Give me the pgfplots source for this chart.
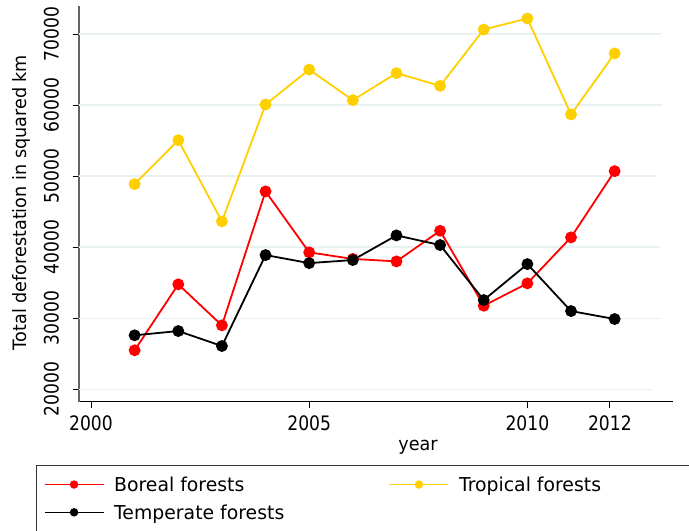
\documentclass[border=0pt]{standalone}
\usepackage{fontspec}
\setmainfont{DejaVu Sans}
\newfontfamily\tickf{DejaVu Sans}[FakeStretch=0.86]
\newfontfamily\labf{DejaVu Sans}[FakeStretch=0.955]
\newfontfamily\legf{DejaVu Sans}[FakeStretch=0.985]
\usepackage{pgfplots}
\pgfplotsset{compat=1.18}
\definecolor{boreal}{RGB}{255,0,0}
\definecolor{tropical}{RGB}{255,208,0}
\definecolor{gridc}{RGB}{234,241,243}
\definecolor{yaxc}{RGB}{100,100,100}
\begin{document}
\begin{tikzpicture}
\path[use as bounding box] (0,0) rectangle (689bp,-531bp);
\begin{axis}[
  at={(79bp,-401.7bp)}, anchor=south west,
  scale only axis, width=593.7bp, height=395.7bp,
  xmin=1999.725, xmax=2013.33,
  ymin=18255, ymax=73940,
  scaled y ticks=false, scaled x ticks=false,
  axis x line*=bottom, axis y line*=left,
  x axis line style={black, line width=1.1bp, -},
  y axis line style={yaxc, line width=1.6bp, -},
  tick align=outside,
  major tick length=6.5bp,
  tick style={black, line width=0.9bp},
  xtick={2000,2005,2010,2011.89},
  xticklabels={2000,2005,2010,2012},
  ytick={20000,30000,40000,50000,60000,70000},
  yticklabels={20000,30000,40000,50000,60000,70000},
  xticklabel style={font=\tickf\fontsize{20}{24}\selectfont, anchor=north, inner sep=0pt, yshift=-7bp},
  yticklabel style={font=\tickf\fontsize{20}{24}\selectfont, rotate=90, anchor=south, inner sep=0pt, yshift=13.3bp},
  xlabel={year},
  ylabel={Total deforestation in squared km},
  xlabel style={font=\labf\fontsize{18.5}{22}\selectfont, at={(axis description cs:0.571,-0.1221)}, anchor=base, inner sep=0pt},
  ylabel style={font=\labf\fontsize{18.5}{22}\selectfont, at={(axis description cs:-0.0881,0.5034)}, anchor=base, inner sep=0pt},
  clip=false,
  legend columns=2,
  legend cell align=left,
  legend style={draw=none, fill=none, inner sep=0pt, outer sep=0pt,
    at={(axis description cs:-0.059,-0.1916)}, anchor=north west,
    font=\legf\fontsize{19.2}{22}\selectfont,
    nodes={inner sep=0pt, text height=14bp, text depth=0bp},
    row sep=13.8bp,
    /tikz/every odd column/.style={column sep=10bp},
    /tikz/every even column/.style={column sep=104.5bp}},
  legend image code/.code={\draw[#1, line width=1.2bp, mark size=3.6bp, mark repeat=2, mark phase=2] plot coordinates {(0bp,0bp) (29.5bp,0bp) (59bp,0bp)};},
  every axis plot/.append style={line width=1.8bp, mark=*, mark size=5bp, mark options={solid}},
]
\draw[gridc, line width=1.4bp] (axis cs:1999.725,20000) -- (axis cs:2012.858,20000);
\draw[gridc, line width=1.4bp] (axis cs:1999.725,30000) -- (axis cs:2013.08,30000);
\draw[gridc, line width=1.4bp] (axis cs:1999.725,40000) -- (axis cs:2013.04,40000);
\draw[gridc, line width=1.4bp] (axis cs:1999.725,50000) -- (axis cs:2012.966,50000);
\draw[gridc, line width=1.4bp] (axis cs:1999.725,60000) -- (axis cs:2013.08,60000);
\draw[gridc, line width=1.4bp] (axis cs:1999.725,70000) -- (axis cs:2013.06,70000);
\addplot[color=boreal, mark options={fill=boreal}] coordinates {
 (2001,25490) (2002,34770) (2003,29000) (2004,47850) (2005,39270) (2006,38350)
 (2007,38000) (2008,42310) (2009,31760) (2010,34910) (2011,41380) (2012,50700)};
\addlegendentry{Boreal forests}
\addplot[color=tropical, mark options={fill=tropical}] coordinates {
 (2001,48875) (2002,55060) (2003,43630) (2004,60080) (2005,65000) (2006,60690)
 (2007,64490) (2008,62700) (2009,70630) (2010,72180) (2011,58680) (2012,67260)};
\addlegendentry{Tropical forests}
\addplot[color=black, mark options={fill=black}] coordinates {
 (2001,27600) (2002,28200) (2003,26090) (2004,38890) (2005,37760) (2006,38190)
 (2007,41660) (2008,40300) (2009,32560) (2010,37620) (2011,31010) (2012,29890)};
\addlegendentry{Temperate forests}
\end{axis}
\draw[black!80, line width=1bp] (36bp,-465.7bp) rectangle (720bp,-560bp);
\end{tikzpicture}
\end{document}
